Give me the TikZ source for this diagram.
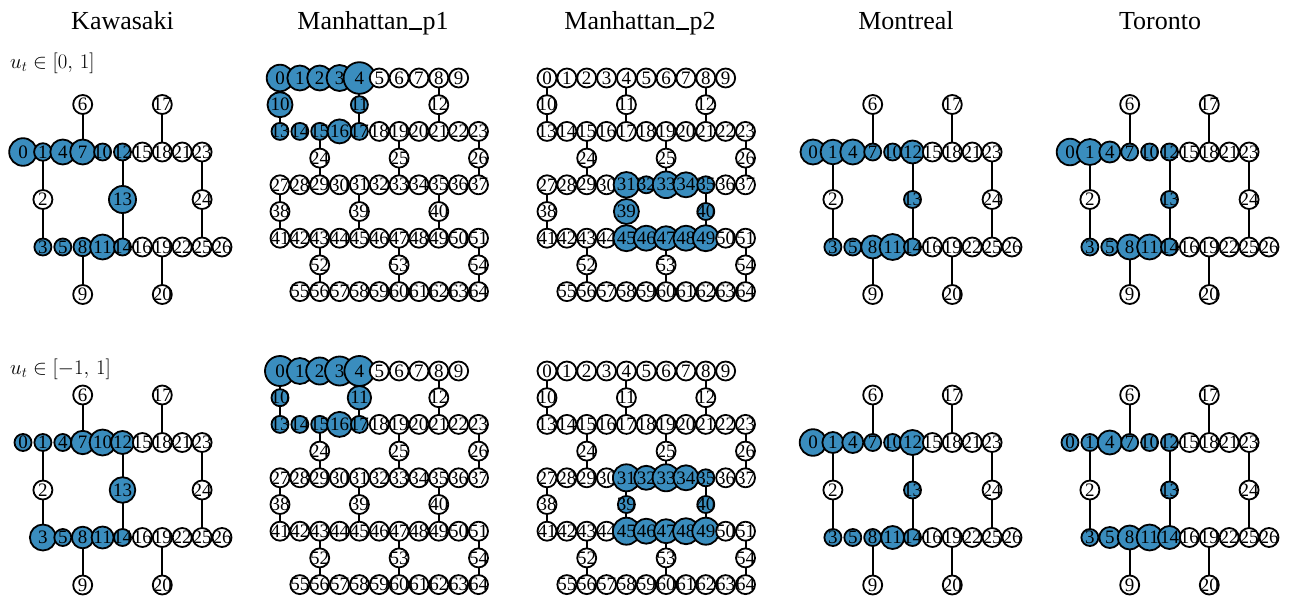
\documentclass[tikz,border=0pt]{standalone}
\usepackage{fontspec}
\setmainfont{Liberation Serif}
\usetikzlibrary{backgrounds}
\definecolor{nodeblue}{RGB}{58,141,190}
\tikzset{
  gnode/.style={circle, draw=black, line width=1.8pt, inner sep=0pt, outer sep=0pt},
  lbl/.style={font=\fontsize{19}{19}\selectfont, inner sep=0pt},
  gedge/.style={line width=2pt, draw=black},
  ttl/.style={font=\fontsize{26}{26}\selectfont, anchor=base, inner sep=0pt},
  rowlbl/.style={font=\fontsize{22}{22}\selectfont, anchor=base west, inner sep=0pt},
}
\newcommand\setradii[2]{\foreach \n/\rv in {#2}{\expandafter\xdef\csname rad@#1@\n\endcsname{\rv}}}
\newcommand\placenode[4]{%
  \ifcsname rad@#1@#2\endcsname
    \edef\rrv{\csname rad@#1@#2\endcsname}%
    \pgfmathsetmacro\dd{2*\rrv}%
    \node[gnode, fill=nodeblue, minimum size=\dd pt, label={[lbl]center:#2}] (#1-#2) at (#3,#4) {};%
  \else
    \node[gnode, fill=white, minimum size=19pt, label={[lbl]center:#2}] (#1-#2) at (#3,#4) {};%
  \fi}
\newcommand\smallgraph[3]{%
  \foreach \n/\ci/\ri in {0/0/0,1/1/0,2/1/1,3/1/2,4/2/0,5/2/2,6/3/-1,7/3/0,8/3/2,9/3/3,10/4/0,11/4/2,12/5/0,13/5/1,14/5/2,15/6/0,16/6/2,17/7/-1,18/7/0,19/7/2,20/7/3,21/8/0,22/8/2,23/9/0,24/9/1,25/9/2,26/10/2}{%
    \pgfmathsetmacro\xx{#2+\ci*19.9}%
    \pgfmathsetmacro\yy{#3+\ri*47.5}%
    \placenode{#1}{\n}{\xx}{\yy}}%
  \begin{scope}[on background layer]
    \foreach \a/\b in {6/7,17/18,1/2,2/3,12/13,13/14,23/24,24/25,8/9,19/20}{\draw[gedge] (#1-\a.center) -- (#1-\b.center);}
  \end{scope}}
\newcommand\mnode[4]{%
  \pgfmathsetmacro\xx{\gx+#3*19.85}%
  \pgfmathsetmacro\yy{\gy+#4*26.7}%
  \placenode{#1}{#2}{\xx}{\yy}}
\newcommand\manhattan[3]{%
  \def\gx{#2}\def\gy{#3}%
  \foreach \n in {0,...,9}{\mnode{#1}{\n}{\n}{0}}%
  \mnode{#1}{10}{0}{1}\mnode{#1}{11}{4}{1}\mnode{#1}{12}{8}{1}%
  \foreach \n in {13,...,23}{\pgfmathtruncatemacro\ci{\n-13}\mnode{#1}{\n}{\ci}{2}}%
  \mnode{#1}{24}{2}{3}\mnode{#1}{25}{6}{3}\mnode{#1}{26}{10}{3}%
  \foreach \n in {27,...,37}{\pgfmathtruncatemacro\ci{\n-27}\mnode{#1}{\n}{\ci}{4}}%
  \mnode{#1}{38}{0}{5}\mnode{#1}{39}{4}{5}\mnode{#1}{40}{8}{5}%
  \foreach \n in {41,...,51}{\pgfmathtruncatemacro\ci{\n-41}\mnode{#1}{\n}{\ci}{6}}%
  \mnode{#1}{52}{2}{7}\mnode{#1}{53}{6}{7}\mnode{#1}{54}{10}{7}%
  \foreach \n in {55,...,64}{\pgfmathtruncatemacro\ci{\n-54}\mnode{#1}{\n}{\ci}{8}}%
  \begin{scope}[on background layer]
    \foreach \a/\b in {0/10,10/13,4/11,11/17,8/12,12/21,15/24,24/29,19/25,25/33,23/26,26/37,27/38,38/41,31/39,39/45,35/40,40/49,43/52,52/56,47/53,53/60,51/54,54/64}{\draw[gedge] (#1-\a.center) -- (#1-\b.center);}
  \end{scope}}
\newcommand\uscore{\kern0.02em\rule{0.5em}{0.055em}\kern0.02em}

\setradii{KT}{0/13.8,1/8.8,4/12.5,7/12.5,10/8.5,12/8.5,13/13.5,3/8.5,5/8.5,8/9.2,11/12.5,14/8.5}
\setradii{KB}{0/8.5,1/8.5,4/8.5,7/11.7,10/13,12/11.5,13/12.8,3/13,5/8.5,8/10.8,11/11,14/8.5}
\setradii{MT}{0/12.5,1/12.3,4/12.5,7/8.5,10/8.5,12/11.5,13/8.5,3/8.5,5/8.5,8/11.5,11/13,14/8.5}
\setradii{MB}{0/13.3,1/10.5,4/10.5,7/8.5,10/8.5,12/12.5,13/8.5,3/8.5,5/8.5,8/8.5,11/11.5,14/8.5}
\setradii{TT}{0/13.3,1/13,4/10.5,7/8.5,10/8.5,12/8.5,13/8.5,3/8.5,5/8.5,8/12.5,11/12.5,14/8.5}
\setradii{TB}{0/8.5,1/8.5,4/12,7/8.5,10/8.5,12/8.5,13/8.5,3/8.5,5/10.5,8/12,11/13,14/11.5}
\setradii{PAT}{0/13.3,1/12.5,2/12.5,3/13,4/15.8,10/12.5,11/8.5,13/8.5,14/8.5,15/8.5,16/12,17/8.5}
\setradii{PAB}{0/15,1/13,2/13.5,3/14.5,4/15,10/8.5,11/11.7,13/8.5,14/8.5,15/8.5,16/12.5,17/8.5}
\setradii{PBT}{31/12.8,32/8.5,33/13.3,34/12.5,35/8.5,39/12.5,40/8.5,45/13,46/12.5,47/12,48/12.5,49/13}
\setradii{PBB}{31/13.5,32/12,33/13.5,34/12.5,35/8.5,39/8.5,40/8.5,45/13.5,46/12.5,47/12,48/13,49/13.5}

\begin{document}
\begin{tikzpicture}[x=1pt,y=-1pt]
\useasboundingbox (0,0) rectangle (1294,597);
\node[ttl] (t1) at (122.5,29.5) {Kawasaki};
\node[ttl] (t2) at (373,29.5) {Manhattan\uscore p1};
\node[ttl] (t3) at (640,29.5) {Manhattan\uscore p2};
\node[ttl] (t4) at (906,29.5) {Montreal};
\node[ttl] (t5) at (1160,29.5) {Toronto};
\node[rowlbl] (r1) at (10,68) {$u_t\;{\in}\;[0,\,1]$};
\node[rowlbl] (r2) at (10,374) {$u_t\;{\in}\;[-1,\,1]$};
\smallgraph{KT}{23}{152}
\smallgraph{KB}{23}{442.5}
\smallgraph{MT}{813}{152}
\smallgraph{MB}{813}{442.5}
\smallgraph{TT}{1070}{152}
\smallgraph{TB}{1070}{442.5}
\manhattan{PAT}{280}{78}
\manhattan{PAB}{280}{371}
\manhattan{PBT}{547}{78}
\manhattan{PBB}{547}{371}
\end{tikzpicture}
\end{document}
